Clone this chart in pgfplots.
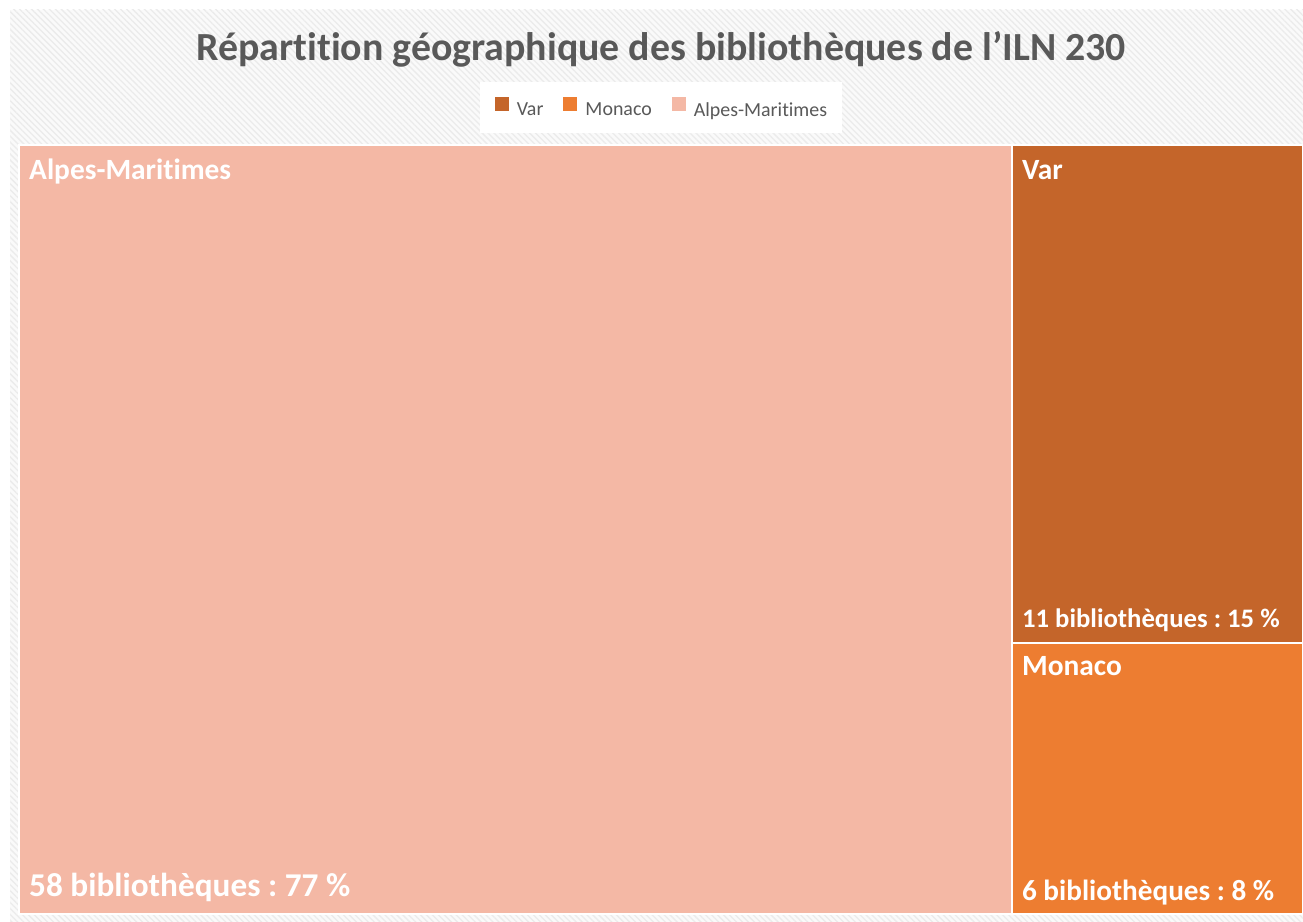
\documentclass[border=0pt]{standalone}
\usepackage{fontspec}
\defaultfontfeatures{}
\setmainfont{Carlito}[Ligatures=NoCommon]
\usepackage{pgfplots}
\pgfplotsset{compat=1.18}
\usetikzlibrary{patterns.meta}
\definecolor{var}{HTML}{C4652A}
\definecolor{monaco}{HTML}{ED7D31}
\definecolor{alpes}{HTML}{F4B8A5}
\definecolor{txtgray}{HTML}{595959}
\definecolor{bgbase}{HTML}{FAFAFA}
\definecolor{bgline}{HTML}{EBEBEB}
\frenchspacing
\begin{document}
\begin{tikzpicture}
\path[use as bounding box] (0,0) rectangle (1303bp,922bp);
\fill[white] (0,0) rectangle (1303bp,922bp);
\fill[bgbase] (10bp,0) rectangle (1303bp,912bp);
\fill[pattern={Lines[angle=-45,distance=4.2bp,line width=1.3bp]},pattern color=bgline] (10bp,0) rectangle (1303bp,912bp);
\node[anchor=base, inner sep=0pt, text=txtgray, font=\bfseries\fontsize{40}{46}\selectfont] at (661bp,861bp) {Répartition géographique des bibliothèques de l\char"0027 ILN 230};
\begin{axis}[
  at={(19bp,8bp)}, anchor=south west,
  width=1284bp, height=769bp, scale only axis,
  xmin=0, xmax=75, ymin=0, ymax=17,
  hide axis, clip=false,
  legend columns=-1,
  legend style={at={(0.5,1)}, anchor=south, yshift=12bp, draw=none, fill=white,
    inner xsep=15bp, inner ysep=15bp,
    font=\fontsize{20}{24}\selectfont, text=txtgray,
    nodes={inner sep=0pt},
    /tikz/every odd column/.append style={column sep=8bp},
    /tikz/every even column/.append style={column sep=20bp}},
  legend image code/.code={\fill[#1,draw=none] (0bp,-1bp) rectangle (14bp,13bp);},
]
\addplot[fill=var, draw=white, line width=2bp] coordinates {(58,6) (75,6) (75,17) (58,17)} --cycle;
\addlegendentry{Var}
\addplot[fill=monaco, draw=white, line width=2bp] coordinates {(58,0) (75,0) (75,6) (58,6)} --cycle;
\addlegendentry{Monaco}
\addplot[fill=alpes, draw=white, line width=2bp] coordinates {(0,0) (58,0) (58,17) (0,17)} --cycle;
\addlegendentry{Alpes-Maritimes}
\tikzset{lab/.style={inner sep=0pt, text=white, anchor=base west, font=\bfseries\fontsize{#1}{#1}\selectfont}}
\node[lab=29.5, xshift=10bp, yshift=-35bp] at (axis cs:0,17) {Alpes-Maritimes};
\node[lab=33.4, xshift=10bp, yshift=18bp] at (axis cs:0,0) {58 bibliothèques : 77 \%};
\node[lab=29.5, xshift=10bp, yshift=-35bp] at (axis cs:58,17) {Var};
\node[lab=26.8, xshift=10bp, yshift=15bp] at (axis cs:58,6) {11 bibliothèques : 15 \%};
\node[lab=29.5, xshift=10bp, yshift=-33bp] at (axis cs:58,6) {Monaco};
\node[lab=29.3, xshift=10bp, yshift=14bp] at (axis cs:58,0) {6 bibliothèques : 8 \%};
\end{axis}
\end{tikzpicture}
\end{document}
